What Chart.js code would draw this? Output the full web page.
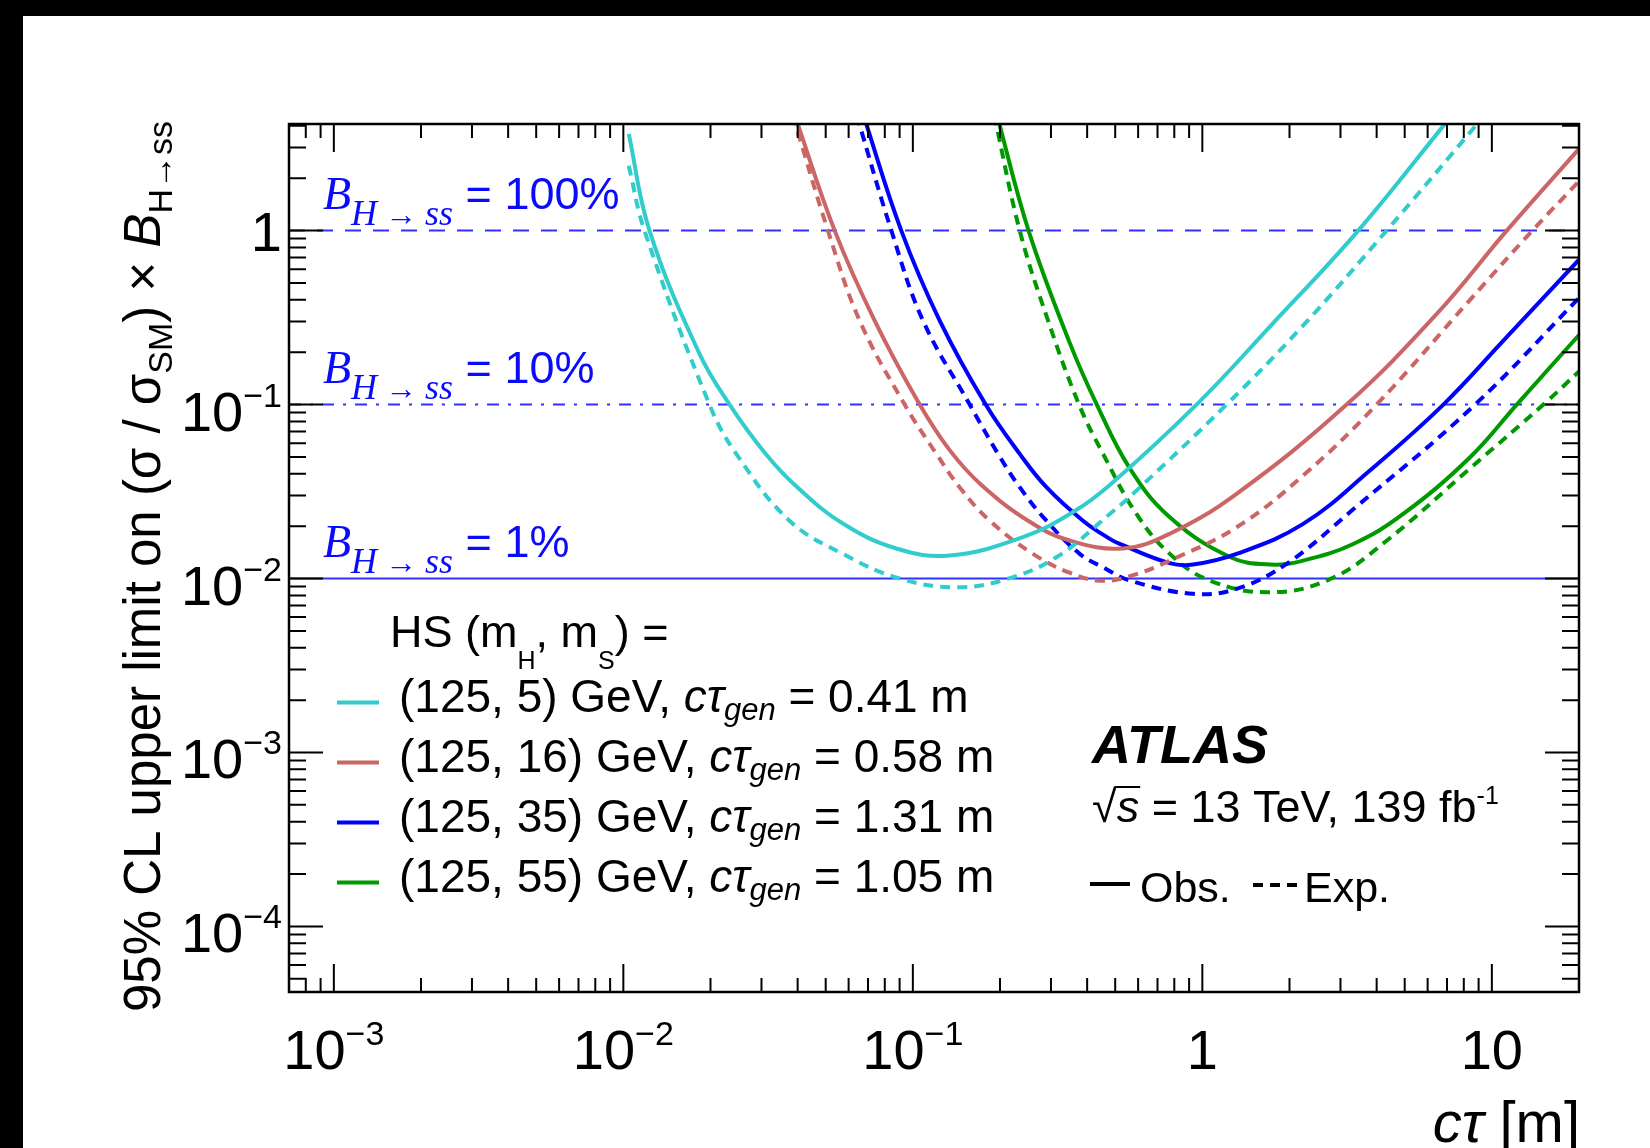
<!DOCTYPE html>
<html>
<head>
<meta charset="utf-8">
<script src="https://cdn.jsdelivr.net/npm/chart.js@4.4.1/dist/chart.umd.min.js"></script>
<style>
  html, body { margin: 0; padding: 0; background: #000; width: 1650px; height: 1148px; overflow: hidden; }
  #wrap { position: absolute; left: 23px; top: 16px; width: 1627px; height: 1132px; background: #fff; }
  canvas { display: block; }
</style>
</head>
<body>
<div id="wrap"><canvas id="chart" width="1627" height="1132"></canvas></div>
<script>
// ---- axis ranges ----
const X_MIN = 7e-4, X_MAX = 20;
const Y_MIN = 4.2e-5, Y_MAX = 4.1;

// ---- tick labels ----
const X_TICKS = [1e-3, 1e-2, 1e-1, 1, 10];
const X_TICK_BASE = ['10', '10', '10', '1', '10'];
const X_TICK_EXP = ['\u22123', '\u22122', '\u22121', '', ''];
const Y_TICKS = [1, 1e-1, 1e-2, 1e-3, 1e-4];
const Y_TICK_BASE = ['1', '10', '10', '10', '10'];
const Y_TICK_EXP = ['', '\u22121', '\u22122', '\u22123', '\u22124'];

// ---- branching-ratio reference lines ----
const BR_VALUES = [1, 0.1, 0.01];
const BR_TEXT = ['100%', '10%', '1%'];

// ---- HS (125, 5) GeV ----
const ctauObs5 = [0.01044, 0.01231, 0.01833, 0.02328, 0.03115, 0.03956, 0.0573, 0.0877, 0.134, 0.240, 0.3575, 0.479, 0.955, 1.712, 3.456, 6.80, 7.28];
const limObs5  = [3.60, 1.0, 0.1955, 0.1, 0.0516, 0.0339, 0.0207, 0.01488, 0.01356, 0.0173, 0.0241, 0.0345, 0.1, 0.2807, 1.0, 4.0, 4.6];
const ctauExp5 = [0.01044, 0.01183, 0.01984, 0.02455, 0.0375, 0.0573, 0.090, 0.1414, 0.2104, 0.3133, 0.479, 0.592, 1.212, 2.23, 4.33, 8.9, 9.43];
const limExp5  = [2.36, 1.0, 0.1, 0.0521, 0.0215, 0.01386, 0.0100, 0.00891, 0.00992, 0.01326, 0.0235, 0.032, 0.1, 0.285, 1.0, 4.1, 4.6];

// ---- HS (125, 16) GeV ----
const ctauObs16 = [0.0391, 0.0537, 0.0738, 0.1056, 0.134, 0.1725, 0.2533, 0.348, 0.532, 0.772, 1.313, 3.15, 6.45, 11.26, 20];
const limObs16  = [4.6, 1.0, 0.304, 0.1, 0.0547, 0.0345, 0.0212, 0.01654, 0.01488, 0.0181, 0.0307, 0.1, 0.332, 1.0, 2.95];
const ctauExp16 = [0.0385, 0.0509, 0.0655, 0.0937, 0.1206, 0.145, 0.1843, 0.260, 0.348, 0.454, 0.592, 0.772, 1.313, 2.23, 4.0, 8.41, 13.8, 20];
const limExp16  = [4.6, 1.0, 0.304, 0.1, 0.0521, 0.0335, 0.0215, 0.01386, 0.0108, 0.0097, 0.0106, 0.01268, 0.0197, 0.0391, 0.1, 0.40, 1.0, 1.92];

// ---- HS (125, 35) GeV ----
const ctauObs35 = [0.0675, 0.0912, 0.1238, 0.1785, 0.2339, 0.2893, 0.387, 0.479, 0.5186, 0.772, 0.929, 1.313, 2.23, 3.79, 6.80, 10.96, 20];
const limObs35  = [4.6, 1.0, 0.304, 0.1, 0.0521, 0.0335, 0.0215, 0.0169, 0.0158, 0.01225, 0.01204, 0.01386, 0.0206, 0.0418, 0.1, 0.233, 0.68];
const ctauExp35 = [0.064, 0.0843, 0.1084, 0.1572, 0.1969, 0.2339, 0.2893, 0.377, 0.454, 0.5615, 0.929, 1.313, 1.954, 3.32, 8.75, 20];
const limExp35  = [4.6, 1.0, 0.304, 0.1, 0.0521, 0.0335, 0.0215, 0.01386, 0.0116, 0.00974, 0.00817, 0.00873, 0.01215, 0.025, 0.1, 0.41];

// ---- HS (125, 55) GeV ----
const ctauObs55 = [0.1953, 0.251, 0.348, 0.432, 0.5615, 0.772, 1.245, 1.712, 2.23, 3.32, 4.94, 8.41, 12.19, 20];
const limObs55  = [4.6, 1.0, 0.227, 0.1, 0.043, 0.0225, 0.0133, 0.01204, 0.01268, 0.0158, 0.0235, 0.0498, 0.1, 0.251];
const ctauExp55 = [0.191, 0.234, 0.29, 0.375, 0.454, 0.592, 0.772, 1.061, 1.712, 2.76, 4.33, 8.41, 15.07, 20];
const limExp55  = [4.6, 1.0, 0.32, 0.1, 0.0521, 0.0235, 0.01386, 0.00974, 0.00834, 0.00992, 0.0165, 0.043, 0.1, 0.155];

// ---- legend entries ----
const MASS_TEXT = ['(125, 5) GeV, ', '(125, 16) GeV, ', '(125, 35) GeV, ', '(125, 55) GeV, '];
const CTAU_GEN  = ['0.41', '0.58', '1.31', '1.05'];
const COLORS    = ['#33cccc', '#cc6666', '#0000ff', '#009900'];
const BR_COLOR  = '#3030ff';
const BR_TEXT_COLOR = '#0a0aff';

const SANS = '"Liberation Sans", Arial, Helvetica, sans-serif';
const SERIF = '"Liberation Serif", "Times New Roman", serif';

function pairs(xs, ys) { return xs.map((x, i) => ({ x: x, y: ys[i] })); }

const curveSets = [
  [ctauObs5, limObs5, ctauExp5, limExp5],
  [ctauObs16, limObs16, ctauExp16, limExp16],
  [ctauObs35, limObs35, ctauExp35, limExp35],
  [ctauObs55, limObs55, ctauExp55, limExp55]
];

const datasets = [];
curveSets.forEach((s, i) => {
  datasets.push({
    data: pairs(s[0], s[1]), borderColor: COLORS[i], borderWidth: 4,
    pointRadius: 0, tension: 0.4, fill: false, clip: 0
  });
  datasets.push({
    data: pairs(s[2], s[3]), borderColor: COLORS[i], borderWidth: 4, borderDash: [10, 7],
    pointRadius: 0, tension: 0.4, fill: false, clip: 0
  });
});
const BR_DASH = [[16, 12], [12, 9, 3, 9], []];
BR_VALUES.forEach((v, i) => {
  datasets.push({
    data: [{ x: X_MIN, y: v }, { x: X_MAX, y: v }], borderColor: BR_COLOR, borderWidth: 2,
    borderDash: BR_DASH[i], pointRadius: 0, fill: false, clip: 0
  });
});

function drawRich(ctx, x, y, segs) {
  let cx = x;
  for (const s of segs) {
    ctx.font = s[1];
    ctx.fillText(s[0], cx, y + (s[2] || 0));
    cx += ctx.measureText(s[0]).width;
  }
  return cx;
}
function richWidth(ctx, segs) {
  let w = 0;
  for (const s of segs) { ctx.font = s[1]; w += ctx.measureText(s[0]).width; }
  return w;
}

const decorations = {
  id: 'decorations',
  afterDatasetsDraw(chart) {
    const ctx = chart.ctx;
    const a = chart.chartArea;
    const xs = chart.scales.x, ys = chart.scales.y;
    ctx.save();
    ctx.textBaseline = 'alphabetic';
    ctx.textAlign = 'left';

    // ticks on all four sides, pointing inward
    ctx.strokeStyle = '#000';
    ctx.lineWidth = 2;
    ctx.beginPath();
    for (let e = -4; e <= 1; e++) {
      for (let k = 1; k <= 9; k++) {
        const v = k * Math.pow(10, e);
        if (v < X_MIN || v > X_MAX) continue;
        const px = xs.getPixelForValue(v);
        const len = k === 1 ? 28 : 14;
        ctx.moveTo(px, a.bottom); ctx.lineTo(px, a.bottom - len);
        ctx.moveTo(px, a.top); ctx.lineTo(px, a.top + len);
      }
    }
    for (let e = -5; e <= 0; e++) {
      for (let k = 1; k <= 9; k++) {
        const v = k * Math.pow(10, e);
        if (v < Y_MIN || v > Y_MAX) continue;
        const py = ys.getPixelForValue(v);
        const len = k === 1 ? 34 : 17;
        ctx.moveTo(a.left, py); ctx.lineTo(a.left + len, py);
        ctx.moveTo(a.right, py); ctx.lineTo(a.right - len, py);
      }
    }
    ctx.stroke();
    ctx.lineWidth = 2.5;
    ctx.strokeRect(a.left, a.top, a.right - a.left, a.bottom - a.top);

    // axis tick labels
    ctx.fillStyle = '#000';
    const big = '56px ' + SANS, sup = '34px ' + SANS;
    X_TICKS.forEach((v, i) => {
      const segs = [[X_TICK_BASE[i], big, 0]];
      if (X_TICK_EXP[i]) segs.push([X_TICK_EXP[i], sup, -24]);
      const w = richWidth(ctx, segs);
      drawRich(ctx, xs.getPixelForValue(v) - w / 2, 1053, segs);
    });
    Y_TICKS.forEach((v, i) => {
      const segs = [[Y_TICK_BASE[i], big, 0]];
      if (Y_TICK_EXP[i]) segs.push([Y_TICK_EXP[i], sup, -24]);
      const w = richWidth(ctx, segs);
      const py = ys.getPixelForValue(v);
      drawRich(ctx, 259 - w, py + (Y_TICK_EXP[i] ? 26 : 20), segs);
    });

    // x-axis title
    const xt = [['c\u03c4', 'italic 58px ' + SANS, 0], [' [m]', '58px ' + SANS, 0]];
    drawRich(ctx, a.right + 1 - richWidth(ctx, xt), 1126, xt);

    // y-axis title (rotated)
    const yt = [
      ['95% CL upper limit on (\u03c3 / \u03c3', '51px ' + SANS, 0],
      ['SM', '34px ' + SANS, 12],
      [') \u00d7 ', '51px ' + SANS, 0],
      ['B', 'italic 51px ' + SANS, 0],
      ['H\u2192ss', '34px ' + SANS, 12]
    ];
    ctx.save();
    ctx.translate(137, 105);
    ctx.rotate(-Math.PI / 2);
    drawRich(ctx, -richWidth(ctx, yt), 0, yt);
    ctx.restore();

    // branching-ratio labels
    ctx.fillStyle = BR_TEXT_COLOR;
    BR_VALUES.forEach((v, i) => {
      const base = ys.getPixelForValue(v) - 22;
      drawRich(ctx, 300, base, [
        ['B', 'italic 46px ' + SERIF, 0],
        ['H', 'italic 36px ' + SERIF, 16],
        [' \u2192 ', '32px ' + SERIF, 16],
        ['ss', 'italic 36px ' + SERIF, 16],
        [' = ' + BR_TEXT[i], '45px ' + SANS, 0]
      ]);
    });

    // legend
    ctx.fillStyle = '#000';
    const leg = '46px ' + SANS;
    drawRich(ctx, 367, 631, [
      ['HS (m', '45px ' + SANS, 0], ['H', '25px ' + SANS, 22], [', m', '45px ' + SANS, 0],
      ['S', '25px ' + SANS, 22], [') =', '45px ' + SANS, 0]
    ]);
    MASS_TEXT.forEach((t, i) => {
      const base = 696 + 60 * i;
      ctx.strokeStyle = COLORS[i];
      ctx.lineWidth = 4;
      ctx.setLineDash([]);
      ctx.beginPath();
      ctx.moveTo(314, base - 9.5); ctx.lineTo(356, base - 9.5);
      ctx.stroke();
      drawRich(ctx, 376, base, [
        [t, leg, 0],
        ['c\u03c4', 'italic ' + leg, 0],
        ['gen', 'italic 31px ' + SANS, 8],
        [' = ' + CTAU_GEN[i] + ' m', leg, 0]
      ]);
    });

    // experiment label
    ctx.font = 'italic bold 54px ' + SANS;
    ctx.fillText('ATLAS', 1069, 747);
    const info = '45px ' + SANS;
    let cx = drawRich(ctx, 1069, 806, [['\u221a', info, 0]]);
    ctx.font = 'italic ' + info;
    const sw = ctx.measureText('s').width;
    ctx.fillText('s', cx, 806);
    ctx.strokeStyle = '#000';
    ctx.lineWidth = 2;
    ctx.beginPath();
    ctx.moveTo(cx - 2, 771); ctx.lineTo(cx + sw + 1, 771);
    ctx.stroke();
    drawRich(ctx, cx + sw, 806, [[' = 13 TeV, 139 fb', info, 0], ['-1', '25px ' + SANS, -18]]);

    // observed / expected key
    ctx.lineWidth = 4;
    ctx.beginPath();
    ctx.moveTo(1067, 868); ctx.lineTo(1107, 868);
    ctx.stroke();
    ctx.setLineDash([10, 7]);
    ctx.beginPath();
    ctx.moveTo(1230, 869); ctx.lineTo(1276, 869);
    ctx.stroke();
    ctx.setLineDash([]);
    ctx.font = '43px ' + SANS;
    ctx.fillText('Obs.', 1117, 886);
    ctx.fillText('Exp.', 1281, 886);
    ctx.restore();
  }
};

new Chart(document.getElementById('chart'), {
  type: 'line',
  data: { datasets: datasets },
  options: {
    responsive: false,
    animation: false,
    devicePixelRatio: 1,
    layout: { padding: { left: 266, top: 108, right: 71, bottom: 156 } },
    plugins: { legend: { display: false }, tooltip: { enabled: false } },
    scales: {
      x: { type: 'logarithmic', min: X_MIN, max: X_MAX, display: false },
      y: { type: 'logarithmic', min: Y_MIN, max: Y_MAX, display: false }
    },
    elements: { line: { borderCapStyle: 'butt', borderJoinStyle: 'round' } }
  },
  plugins: [decorations]
});
</script>
</body>
</html>
